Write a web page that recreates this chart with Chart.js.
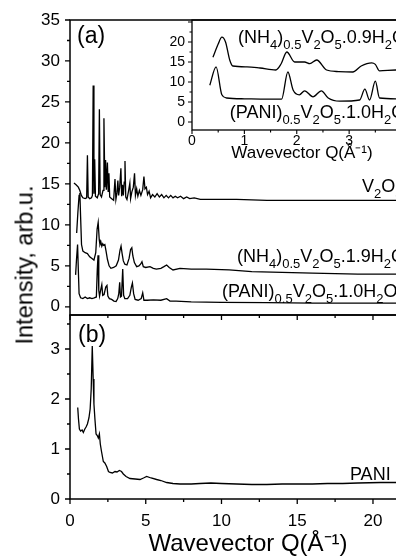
<!DOCTYPE html>
<html>
<head>
<meta charset="utf-8">
<script src="https://cdn.jsdelivr.net/npm/chart.js"></script>
<style>
  body { margin: 0; width: 396px; height: 556px; overflow: hidden; position: relative; background: #fff; font-family: "Liberation Sans", Arial, sans-serif; }
  canvas { position: absolute; }
  #ytitle { position: absolute; left: 24.5px; top: 265px; transform: translate(-50%, -50%) rotate(-90deg); font-size: 23.5px; line-height: 23px; white-space: nowrap; color: #000; }
</style>
</head>
<body>
<canvas id="panelB" width="440" height="247" style="left:0;top:309px"></canvas>
<canvas id="panelA" width="440" height="322" style="left:0;top:0"></canvas>
<canvas id="inset" width="290" height="170" style="left:140px;top:0"></canvas>
<div id="ytitle">Intensity, arb.u.</div>
<script>
const FONT = '"Liberation Sans", Arial, sans-serif';

// tick labels
const qTicks = [0, 5, 10, 15, 20];
const aTicks = [0, 5, 10, 15, 20, 25, 30, 35];
const bTicks = [0, 1, 2, 3];
const insetQTicks = [0, 1, 2, 3, 4];
const insetTicks = [0, 5, 10, 15, 20];

// panel (a): [Q, intensity]
const v2o5 = [[0.26,15.1],[0.4,14.9],[0.55,14.6],[0.65,14.2],[0.75,13.6],[0.85,13.3],[1.0,13.2],[1.1,13.3],[1.15,18.5],[1.2,13.4],[1.3,13.2],[1.42,13.3],[1.48,13.6],[1.53,27.0],[1.58,13.8],[1.63,18.0],[1.68,13.5],[1.8,13.3],[1.89,13.8],[1.94,24.1],[1.99,13.7],[2.08,13.4],[2.18,14.2],[2.24,23.0],[2.3,14.6],[2.35,17.9],[2.4,14.3],[2.47,17.6],[2.52,14.1],[2.57,16.3],[2.62,13.4],[2.75,13.2],[2.88,13.0],[2.97,15.6],[3.03,13.1],[3.1,13.9],[3.16,15.4],[3.21,13.6],[3.28,14.6],[3.36,16.9],[3.41,13.5],[3.47,14.9],[3.52,13.6],[3.58,15.2],[3.63,17.8],[3.68,13.4],[3.76,13.1],[3.86,14.1],[3.95,15.1],[4.0,13.2],[4.08,14.0],[4.18,14.6],[4.26,16.3],[4.32,13.6],[4.4,14.4],[4.48,13.5],[4.58,14.2],[4.68,13.6],[4.8,14.3],[4.88,15.9],[4.95,14.4],[5.04,14.6],[5.12,13.7],[5.22,14.1],[5.32,13.3],[5.45,13.7],[5.6,13.4],[5.75,13.8],[5.9,13.4],[6.05,13.7],[6.2,13.3],[6.35,13.6],[6.5,13.3],[6.65,13.6],[6.8,13.3],[6.95,13.5],[7.1,13.3],[7.3,13.5],[7.5,13.2],[7.7,13.4],[7.9,13.2],[8.2,13.3],[8.6,13.1],[9.5,13.1],[11,13.1],[13,13.0],[16,13.0],[19,13.0],[23.5,13.0]];
const nh4a = [[0.44,9.0],[0.52,11.5],[0.6,13.6],[0.65,13.9],[0.7,11.0],[0.76,7.6],[0.85,6.8],[1.0,6.6],[1.15,6.5],[1.3,6.1],[1.45,5.9],[1.58,5.7],[1.7,6.6],[1.79,9.5],[1.86,10.3],[1.93,8.2],[1.98,7.6],[2.04,7.9],[2.1,7.4],[2.16,7.7],[2.22,7.5],[2.3,7.6],[2.38,6.8],[2.47,5.8],[2.58,5.0],[2.7,4.7],[2.88,4.8],[3.05,5.0],[3.2,5.7],[3.3,6.9],[3.37,7.4],[3.44,6.5],[3.52,5.6],[3.62,5.2],[3.76,5.1],[3.9,5.9],[4.0,7.0],[4.08,7.2],[4.15,6.2],[4.25,5.4],[4.4,4.9],[4.55,5.0],[4.66,5.2],[4.75,5.5],[4.84,4.9],[5.0,4.8],[5.28,4.9],[5.5,4.7],[5.7,4.6],[6.0,4.7],[6.2,4.9],[6.38,5.1],[6.55,4.8],[6.8,4.5],[7.26,4.7],[8,4.6],[9,4.6],[10.5,4.5],[12,4.3],[14,4.2],[16,4.1],[19,4.0],[23.5,4.0]];
const pania = [[0.37,3.9],[0.43,5.8],[0.5,7.6],[0.55,4.5],[0.6,1.6],[0.7,1.1],[0.85,1.0],[1.0,1.2],[1.15,1.0],[1.3,1.1],[1.45,1.0],[1.6,1.1],[1.74,1.2],[1.8,4.5],[1.85,6.3],[1.9,2.0],[1.95,1.3],[2.02,2.0],[2.1,2.7],[2.16,1.4],[2.25,1.5],[2.36,2.4],[2.44,2.6],[2.5,1.3],[2.6,1.0],[2.75,0.9],[2.9,0.7],[3.04,0.65],[3.15,1.0],[3.22,1.6],[3.28,3.0],[3.33,1.2],[3.4,1.3],[3.48,4.6],[3.54,1.4],[3.62,1.0],[3.8,1.0],[3.95,1.4],[4.05,2.4],[4.12,2.9],[4.2,1.6],[4.3,0.9],[4.5,0.8],[4.7,1.0],[4.8,1.7],[4.88,0.8],[5.1,0.8],[5.5,0.85],[6.0,0.8],[6.38,1.0],[6.6,0.7],[7.0,0.7],[8,0.6],[10,0.55],[13,0.5],[16,0.45],[23.5,0.45]];

// panel (b)
const panib = [[0.51,1.83],[0.56,1.6],[0.62,1.4],[0.7,1.36],[0.8,1.38],[0.88,1.33],[0.98,1.4],[1.06,1.44],[1.15,1.5],[1.25,1.62],[1.33,1.8],[1.4,2.2],[1.47,3.06],[1.53,2.4],[1.58,1.9],[1.65,1.58],[1.72,1.3],[1.8,1.27],[1.87,1.22],[1.94,1.3],[2.0,1.1],[2.08,0.95],[2.2,0.75],[2.3,0.72],[2.42,0.65],[2.54,0.55],[2.64,0.53],[2.8,0.52],[2.97,0.55],[3.1,0.54],[3.26,0.57],[3.4,0.55],[3.52,0.5],[3.7,0.45],[3.96,0.41],[4.3,0.4],[4.62,0.39],[4.85,0.42],[5.06,0.45],[5.35,0.42],[5.72,0.39],[6.0,0.37],[6.38,0.33],[6.8,0.31],[7.26,0.3],[8.0,0.3],[8.58,0.31],[9.3,0.32],[10,0.31],[11,0.3],[12,0.29],[13,0.29],[14,0.3],[15,0.3],[16,0.3],[17,0.31],[18,0.31],[19,0.32],[20.5,0.33],[23.5,0.33]];

// inset
const nh4Inset = [[0.4,16.2],[0.5,19.5],[0.57,21.2],[0.64,20],[0.72,15.5],[0.78,14],[1.05,13.8],[1.3,13.5],[1.6,13],[1.7,14.5],[1.81,17.5],[1.96,15],[2.15,15],[2.25,14.6],[2.38,15.5],[2.57,13],[2.8,12.6],[3.07,12.5],[3.23,14],[3.43,14.8],[3.5,14.4],[3.58,12.8],[3.89,13],[4.2,13]];
const paniInset = [[0.34,9.2],[0.46,13.8],[0.57,6.8],[0.66,6],[1.0,5.8],[1.71,5.7],[1.83,12.5],[1.93,8],[2.05,6.8],[2.15,7.8],[2.31,6.3],[2.47,7.8],[2.6,6],[2.82,5.2],[3.2,5.5],[3.3,8.2],[3.39,5.5],[3.5,10.2],[3.58,6],[3.89,5.8],[4.2,5.8]];

const xy = pts => pts.map(p => ({ x: p[0], y: p[1] }));
const line = (pts, smooth) => ({
  data: xy(pts), borderColor: '#000', borderWidth: 1.3, pointRadius: 0, fill: false,
  tension: 0, cubicInterpolationMode: smooth ? 'monotone' : 'default'
});

// text with _{sub} and ^{sup}
function richParts(s) {
  const parts = [];
  const re = /([_^])\{([^}]*)\}|([^_^]+)/g;
  let m;
  while ((m = re.exec(s))) {
    if (m[3]) parts.push({ t: m[3], k: 'n' });
    else parts.push({ t: m[2], k: m[1] === '_' ? 'sub' : 'sup' });
  }
  return parts;
}

// box, outward major/minor ticks and the curve labels
const decorPlugin = {
  id: 'decor',
  afterDatasetsDraw(chart, args, o) {
    const { ctx, chartArea: a, scales } = chart;
    ctx.save();
    ctx.strokeStyle = '#000';
    ctx.lineWidth = o.width;
    ctx.strokeRect(a.left, a.top, a.right - a.left, a.bottom - a.top);
    ctx.lineWidth = o.tickWidth;
    ctx.beginPath();
    const marks = (scale, values, draw) => {
      if (!values) return;
      const half = (values[1] - values[0]) / 2;
      for (let k = -1; k < 200; k++) {
        const v = values[0] + k * half;
        if (v > scale.max + 1e-9) break;
        if (v < scale.min - 1e-9) continue;
        draw(scale.getPixelForValue(v), k % 2 === 0 ? o.major : o.minor);
      }
    };
    marks(scales.x, o.xTicks, (px, len) => { ctx.moveTo(px, a.bottom); ctx.lineTo(px, a.bottom + len); });
    marks(scales.y, o.yTicks, (py, len) => { ctx.moveTo(a.left, py); ctx.lineTo(a.left - len, py); });
    ctx.stroke();

    ctx.fillStyle = '#000';
    ctx.textBaseline = 'alphabetic';
    ctx.textAlign = 'left';
    (o.items || []).forEach(it => {
      let x = scales.x.getPixelForValue(it.x);
      const y = scales.y.getPixelForValue(it.y);
      const size = it.size || 18;
      richParts(it.text).forEach(p => {
        const s = p.k === 'n' ? size : Math.round(size * 0.72);
        const dy = p.k === 'sub' ? size * 0.34 : p.k === 'sup' ? -size * 0.42 : 0;
        ctx.font = s + 'px ' + FONT;
        ctx.fillText(p.t, x, y + dy);
        x += ctx.measureText(p.t).width;
      });
    });
    ctx.restore();
  }
};

const tickFont = size => ({ family: FONT, size: size });
const fixTicks = values => scale => { scale.ticks = values.map(v => ({ value: v })); };
const fitY = w => s => { s.width = w; s.paddingTop = 0; s.paddingBottom = 0; };
const fitX = h => s => { s.height = h; s.paddingLeft = 0; s.paddingRight = 0; };
const base = { responsive: false, animation: false, events: [] };

// panel (a)
new Chart(document.getElementById('panelA'), {
  type: 'line',
  data: { datasets: [line(v2o5), line(nh4a), line(pania)] },
  options: {
    ...base,
    layout: { padding: { top: 20, right: 14, bottom: 7, left: 0 } },
    plugins: {
      legend: { display: false }, tooltip: { enabled: false },
      decor: {
        width: 1.5, tickWidth: 1.3, major: 5, minor: 3, xTicks: qTicks, yTicks: aTicks,
        items: [
          { text: '(a)', x: 0.46, y: 32.2, size: 23 },
          { text: 'V_{2}O_{5}', x: 19.27, y: 14.0 },
          { text: '(NH_{4})_{0.5}V_{2}O_{5}.1.9H_{2}O', x: 11.02, y: 5.47 },
          { text: '(PANI)_{0.5}V_{2}O_{5}.1.0H_{2}O', x: 10.03, y: 1.2 }
        ]
      }
    },
    scales: {
      x: { type: 'linear', min: 0, max: 23.5, display: false },
      y: {
        min: -1, max: 35,
        afterBuildTicks: fixTicks(aTicks),
        afterFit: fitY(70),
        grid: { display: false, drawTicks: false }, border: { display: false },
        ticks: { padding: 10, color: '#000', font: tickFont(17) }
      }
    }
  },
  plugins: [decorPlugin]
});

// panel (b)
new Chart(document.getElementById('panelB'), {
  type: 'line',
  data: { datasets: [line(panib)] },
  options: {
    ...base,
    layout: { padding: { top: 6, right: 14, bottom: 0, left: 0 } },
    plugins: {
      legend: { display: false }, tooltip: { enabled: false },
      decor: {
        width: 1.5, tickWidth: 1.3, major: 5, minor: 3, xTicks: qTicks, yTicks: bTicks,
        items: [
          { text: '(b)', x: 0.53, y: 3.14, size: 23 },
          { text: 'PANI', x: 18.48, y: 0.38 }
        ]
      }
    },
    scales: {
      x: {
        type: 'linear', min: 0, max: 23.5,
        afterBuildTicks: fixTicks(qTicks),
        afterFit: fitX(57),
        grid: { display: false, drawTicks: false }, border: { display: false },
        ticks: { padding: 12, color: '#000', font: tickFont(17), maxRotation: 0 },
        title: { display: true, text: 'Wavevector Q(Å⁻¹)', color: '#000', font: { family: FONT, size: 24, lineHeight: 1 }, padding: { top: 0, bottom: 0 } }
      },
      y: {
        min: 0, max: 3.68,
        afterBuildTicks: fixTicks(bTicks),
        afterFit: fitY(70),
        grid: { display: false, drawTicks: false }, border: { display: false },
        ticks: { padding: 10, color: '#000', font: tickFont(17) }
      }
    }
  },
  plugins: [decorPlugin]
});

// inset
new Chart(document.getElementById('inset'), {
  type: 'line',
  data: { datasets: [line(nh4Inset, true), line(paniInset, true)] },
  options: {
    ...base,
    layout: { padding: { top: 20, right: 18, bottom: 0, left: 0 } },
    plugins: {
      legend: { display: false }, tooltip: { enabled: false },
      decor: {
        width: 1.3, tickWidth: 1.1, major: 4, minor: 2.5, xTicks: insetQTicks, yTicks: insetTicks,
        items: [
          { text: '(NH_{4})_{0.5}V_{2}O_{5}.0.9H_{2}O', x: 0.88, y: 19.75 },
          { text: '(PANI)_{0.5}V_{2}O_{5}.1.0H_{2}O', x: 0.72, y: 1.0 }
        ]
      }
    },
    scales: {
      x: {
        type: 'linear', min: 0, max: 4.2,
        afterBuildTicks: fixTicks(insetQTicks),
        afterFit: fitX(40),
        grid: { display: false, drawTicks: false }, border: { display: false },
        ticks: { padding: 3, color: '#000', font: tickFont(14), maxRotation: 0 },
        title: { display: true, text: 'Wavevector Q(Å⁻¹)', color: '#000', font: { family: FONT, size: 17, lineHeight: 1 }, padding: { top: 0, bottom: 7.7 } }
      },
      y: {
        min: -2, max: 25.5,
        afterBuildTicks: fixTicks(insetTicks),
        afterFit: fitY(52),
        grid: { display: false, drawTicks: false }, border: { display: false },
        ticks: { padding: 7, color: '#000', font: tickFont(14) }
      }
    }
  },
  plugins: [decorPlugin]
});
</script>
</body>
</html>
